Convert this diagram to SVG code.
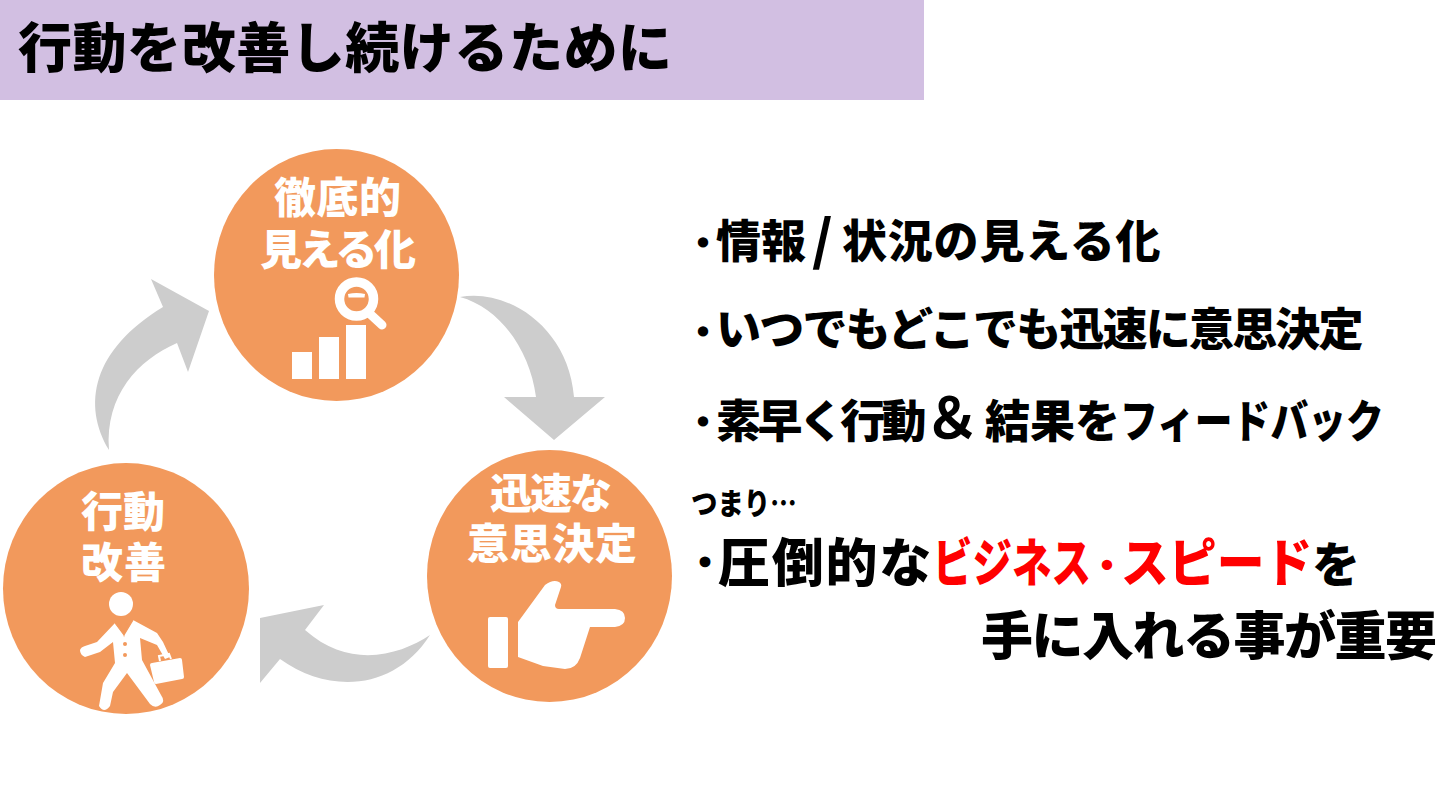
<svg xmlns="http://www.w3.org/2000/svg" width="1444" height="790" viewBox="0 0 1444 790">
<style>
text{font-family:"Noto Sans CJK JP","Noto Sans",sans-serif;font-weight:900}
.t{fill:#000;font-size:45px}
.b{fill:#000;font-size:52px}
.r{fill:#f00;font-size:52px}
.w{fill:#fff;font-size:42px}
.d{fill:#000;stroke:#000;stroke-width:3px;font-size:26px}
.c{fill:#f2995c}
.a{fill:#cdcdcd}
.i{fill:#fff}
</style>
<rect width="1444" height="790" fill="#fff"/>
<g id="title"><rect width="924" height="100" fill="#d2bfe2"/><text x="18" y="68" style="font-size:54px" fill="#000" textLength="654">行動を改善し続けるために</text></g>
<g id="connectors">
<path class="a" d="M460 297C505 288 568 325 574 397H605L554 440L504 397H536C530 350 500 308 460 297Z"/>
<path class="a" d="M430 635C400 655 350 670 305 630L324 605L260 618V683L280 659C330 695 395 690 430 635Z"/>
<path class="a" d="M109 450C82 405 92 350 163 307L151 279L209 311L188 372L177 343C138 360 105 395 109 450Z"/>
</g>
<g id="node-visualize">
<ellipse class="c" cx="336.500" cy="275" rx="122.500" ry="126"/>
<text class="w" x="274" y="213" textLength="127">徹底的</text><text class="w" x="260" y="265" textLength="156">見える化</text>
<rect class="i" x="292" y="352" width="20" height="27"/><rect class="i" x="319" y="337" width="20" height="42"/><rect class="i" x="346" y="325" width="20" height="54"/>
<circle cx="356.500" cy="299" r="17" fill="#f2995c" stroke="#fff" stroke-width="9.500"/><path d="M369 313L382 325" stroke="#fff" stroke-width="9" stroke-linecap="round"/>
<path class="i" d="M348 294Q356.500 292 365 294L364.500 297.500H348.500Z"/>
</g>
<g id="node-decide">
<ellipse class="c" cx="549.500" cy="576" rx="122.500" ry="126"/>
<text class="w" x="490" y="509" textLength="122">迅速な</text><text class="w" x="467" y="559" textLength="170">意思決定</text>
<rect class="i" x="488" y="617" width="20" height="51" rx="2"/>
<path class="i" d="M518 622L545 585Q553 579 559 582Q562 584 561 587L555 605Q555 609 559 609H615Q625 610 625 618Q625 626 615 627H590L580 658Q576 669 565 669L543 666L518 657Z"/>
</g>
<g id="node-act">
<ellipse class="c" cx="126" cy="588.500" rx="123" ry="125.500"/>
<text class="w" x="81" y="527" textLength="84">行動</text><text class="w" x="81" y="578" textLength="85">改善</text>
<circle class="i" cx="121" cy="604" r="12"/>
<path class="i" d="M115 623L124 635L133 620L157 633L163 642L170 657L165 659L157 645L140 638L142 660L161 695Q166 702 160 705Q155 709 150 704L127 673L113 692L110 706Q104 714 99 706L103 683L115 663L113 642L100 652L85 657Q80 655 80 650Q81 647 85 646L97 642Z"/>
<path d="M115 623L124 635L133 620M120 623L124 635L127 623" fill="none" stroke="#f2995c" stroke-width="1.200"/>
<circle class="c" cx="125" cy="644" r="2"/><circle class="c" cx="125" cy="655" r="2"/>
<path class="i" d="M152 663L180 658Q182 658 182 660L184 677Q184 679 182 679L156 684Q154 684 154 682L150 665Q150 663 152 663Z"/>
<path d="M160 661L159 656L169 654L171 659" fill="none" stroke="#fff" stroke-width="2"/>
</g>
<g id="text-list">
<text class="d" x="690" y="252">・</text><text class="t" x="716" y="258">情報<tspan x="812" y="260" style="font-size:54px">/</tspan><tspan x="842" y="258" letter-spacing=".8">状況の見える化</tspan></text>
<text class="d" x="690" y="341">・</text><text class="t" x="716" y="346" letter-spacing="-1.800">いつでもどこでも迅速に意思決定</text>
<text class="d" x="690" y="431">・</text><text class="t" x="716" y="438"><tspan letter-spacing="-3.600">素早く行動</tspan><tspan x="924" style="font-size:56px;font-weight:700">＆</tspan><tspan x="985">結果を</tspan></text>
<text class="t" transform="translate(1120 438) scale(.84 1)">フィードバック</text>
<text transform="translate(691 514) scale(.88 1)" style="font-size:30px" fill="#000">つまり…</text>
<text class="d" x="691" y="573" style="font-size:28px">・</text><text class="b" x="718" y="582" letter-spacing="1.750">圧倒的な</text>
<text class="r" transform="translate(933 582) scale(.76 1)">ビジネス</text>
<text class="r" x="1093" y="576" style="font-size:28px;stroke:#f00;stroke-width:2.500px">・</text>
<text class="r" transform="translate(1121 582) scale(.92 1)">スピード</text>
<text class="b" x="1312" y="582" style="font-size:48px">を</text>
<text class="b" x="981" y="655" textLength="456">手に入れる事が重要</text>
</g>
</svg>
